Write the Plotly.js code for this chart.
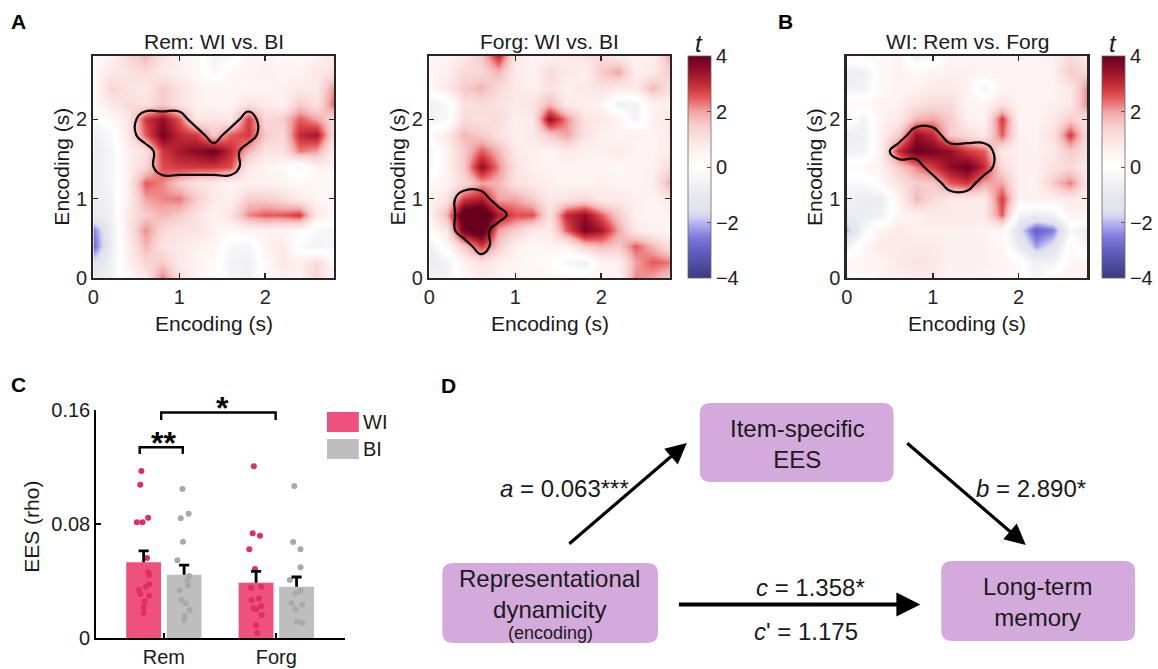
<!DOCTYPE html>
<html><head><meta charset="utf-8">
<script src="https://cdn.plot.ly/plotly-3.0.1.min.js"></script>
<style>html,body{margin:0;padding:0;background:#fff}#chart{width:1158px;height:669px}</style>
</head><body><div id="chart"></div>
<script>
// ---------------- DATA ----------------
const gridSec = [0,0.2,0.4,0.6,0.8,1,1.2,1.4,1.6,1.8,2,2.2,2.4,2.6,2.8];
const secTicks = [0,1,2];
const tTicks = [-4,-2,0,2,4];

// t-maps, rows = encoding time (y) 0..2.8, columns = encoding time (x) 0..2.8
const tRemWIvsBI = [
 [-0.8,-0.6,0.3,0.8,2.3,1.0,0.5,0.3,-0.4,-0.6,0.2,0.6,0.5,1.2,0.5],
 [-1.5,-0.6,0.5,1.3,1.5,0.8,0.5,0.2,-0.5,-0.6,0.3,0.8,0.6,1.2,0.3],
 [-2.8,-0.8,0.6,1.8,1.0,0.8,0.6,0.5,-0.3,-0.4,0.5,0.8,-0.2,-0.5,-0.3],
 [-2.5,-0.8,0.8,2.2,1.2,1.0,1.0,0.6,0.3,0.5,0.6,0.5,0.3,-0.3,-0.4],
 [-0.9,-0.6,0.8,1.5,1.8,1.5,1.0,0.5,1.0,2.2,2.5,2.5,2.8,0.8,0.3],
 [-0.8,-0.5,0.6,2.0,2.2,2.3,1.5,0.8,0.6,1.5,1.5,1.2,0.8,0.5,0.3],
 [-0.8,-0.4,0.6,2.5,2.2,1.5,1.0,0.8,0.5,0.6,0.6,0.5,0.3,0.4,0.3],
 [-0.8,-0.4,0.6,1.3,2.6,2.8,2.8,2.8,2.6,0.8,0.5,0.3,-0.4,0.5,0.5],
 [-0.8,-0.4,0.6,1.0,2.8,3.3,3.6,3.9,3.0,1.8,1.0,1.0,2.3,2.0,0.6],
 [-0.6,-0.3,0.8,2.5,3.8,3.0,2.8,1.5,2.5,2.8,1.5,1.2,3.0,3.3,1.0],
 [-0.3,0.3,0.8,2.8,3.5,2.5,0.8,1.0,0.8,2.8,1.2,1.5,2.5,2.0,1.2],
 [0.3,0.8,1.2,1.0,1.5,1.0,0.6,0.5,0.5,1.0,0.8,0.5,1.5,1.0,2.5],
 [0.3,1.3,1.0,0.8,1.5,1.0,0.6,0.5,0.5,0.4,0.5,0.6,0.8,0.8,2.2],
 [0.3,0.8,1.0,1.2,0.8,0.6,0.3,-0.3,0.3,0.5,0.6,0.5,0.5,0.8,1.0],
 [0.2,0.5,1.2,1.8,1.0,0.6,0.3,-0.5,-0.3,0.5,0.5,0.3,0.3,0.6,0.8]
];
const tForgWIvsBI = [
 [-0.6,-0.5,0.3,0.8,0.5,0.3,0.5,0.3,0.2,0.3,0.5,0.5,2.2,2.0,1.5],
 [-0.8,-0.5,0.5,1.0,0.6,0.5,0.3,0.2,-0.3,-0.6,0.5,0.6,2.0,2.5,2.3],
 [-0.6,0.3,1.5,2.8,1.5,0.6,0.3,0.5,0.5,1.5,1.8,1.5,2.5,1.8,1.0],
 [0.3,0.8,4.0,4.5,2.0,1.5,0.8,0.8,2.5,3.8,3.3,2.0,0.8,0.5,0.5],
 [0.5,1.8,4.5,4.8,3.2,2.6,2.6,1.0,3.0,3.5,2.5,1.5,0.6,0.5,0.5],
 [0.5,1.0,2.8,3.2,2.0,2.0,1.5,0.8,1.0,1.2,0.8,0.8,0.6,0.5,0.8],
 [0.3,0.5,1.2,2.0,1.8,1.0,0.8,0.6,0.5,0.5,0.6,0.5,0.5,0.6,2.0],
 [-0.3,0.5,1.5,3.5,2.2,1.0,0.6,0.5,0.5,0.5,0.5,0.3,0.5,0.6,1.2],
 [-0.3,0.5,1.5,2.5,1.8,0.8,0.6,0.5,0.8,0.6,0.6,0.8,0.5,0.5,0.8],
 [0.2,0.8,1.8,1.5,1.0,0.6,0.8,1.5,2.0,1.0,0.6,0.5,0.6,0.5,0.8],
 [-0.5,-0.3,1.2,1.0,1.2,0.6,0.8,3.5,2.2,1.0,0.8,0.5,-0.5,0.6,0.8],
 [-0.6,-0.3,1.0,1.2,1.0,0.8,1.0,1.8,0.8,0.6,0.5,-0.6,-0.5,0.5,0.6],
 [0.3,0.8,1.5,1.8,1.2,0.8,0.6,1.0,0.6,0.8,1.0,0.8,0.8,1.8,1.0],
 [0.5,0.6,1.2,1.3,1.8,0.8,0.5,1.2,0.8,0.6,1.5,2.0,0.6,0.8,1.5],
 [0.5,0.5,0.8,1.5,3.0,0.8,0.5,0.6,0.8,1.0,1.2,0.8,0.6,0.6,2.0]
];
const tWIRemVsForg = [
 [0.3,0.3,0.5,0.6,0.8,0.8,0.5,0.6,0.5,0.5,0.3,-0.4,0.3,0.6,0.5],
 [0.3,0.5,0.5,0.8,1.0,0.8,0.6,0.6,0.6,0.5,0.2,-0.6,-0.5,0.3,0.5],
 [-0.5,0.3,0.8,0.8,0.8,0.8,0.6,0.6,0.6,0.3,-0.8,-2.2,-1.5,0.3,-0.5],
 [-2.0,-0.3,0.5,0.8,0.6,0.6,0.6,0.6,0.5,0.3,-1.5,-3.0,-2.5,-0.3,-0.8],
 [-0.8,-0.8,-0.6,0.5,0.6,0.8,0.8,0.8,0.8,2.5,-0.5,-0.8,-0.6,0.5,0.5],
 [-0.6,-0.8,-0.8,0.5,1.8,1.2,0.8,0.8,0.8,2.8,0.6,0.6,0.6,0.8,0.6],
 [-0.3,-0.3,0.3,1.0,1.5,1.5,2.5,2.8,2.0,2.0,0.6,0.5,1.5,2.3,0.8],
 [0.3,0.3,0.6,1.5,2.2,2.8,3.5,4.0,3.0,1.2,0.6,0.6,1.0,1.2,0.8],
 [-0.6,-0.5,0.6,3.0,4.0,3.8,3.5,2.8,2.5,0.8,0.6,0.6,0.8,1.5,1.0],
 [-0.8,-0.6,0.6,1.5,3.5,3.0,1.5,1.2,0.8,2.5,0.6,0.5,1.0,2.8,1.0],
 [0.3,-0.5,0.5,0.8,1.8,2.0,1.5,0.6,0.5,2.8,0.5,0.5,0.8,1.5,1.0],
 [0.3,0.3,0.5,0.6,1.0,1.2,1.2,0.5,0.5,1.0,0.5,0.5,0.6,0.8,2.3],
 [-0.6,-0.5,0.3,0.5,0.5,0.8,0.8,0.6,-0.5,0.5,0.5,0.5,0.5,0.8,2.3],
 [-0.8,-0.6,0.3,0.5,0.3,0.5,0.6,0.6,0.5,0.5,0.5,0.5,0.6,1.5,1.2],
 [0.3,0.3,0.3,0.5,-0.6,-0.3,0.5,0.5,0.5,0.5,0.5,0.5,0.5,1.2,0.8]
];

// significant clusters (1 = inside cluster)
const clusterRem = [
 [0,0,0,0,0,0,0,0,0,0,0,0,0,0,0],[0,0,0,0,0,0,0,0,0,0,0,0,0,0,0],
 [0,0,0,0,0,0,0,0,0,0,0,0,0,0,0],[0,0,0,0,0,0,0,0,0,0,0,0,0,0,0],
 [0,0,0,0,0,0,0,0,0,0,0,0,0,0,0],[0,0,0,0,0,0,0,0,0,0,0,0,0,0,0],
 [0,0,0,0,0,0,0,0,0,0,0,0,0,0,0],
 [0,0,0,0,1,1,1,1,1,0,0,0,0,0,0],
 [0,0,0,0,1,1,1,1,1,0,0,0,0,0,0],
 [0,0,0,1,1,1,1,0,1,1,0,0,0,0,0],
 [0,0,0,1,1,1,0,0,0,1,0,0,0,0,0],
 [0,0,0,0,0,0,0,0,0,0,0,0,0,0,0],[0,0,0,0,0,0,0,0,0,0,0,0,0,0,0],
 [0,0,0,0,0,0,0,0,0,0,0,0,0,0,0],[0,0,0,0,0,0,0,0,0,0,0,0,0,0,0]
];
const clusterForg = [
 [0,0,0,0,0,0,0,0,0,0,0,0,0,0,0],[0,0,0,0,0,0,0,0,0,0,0,0,0,0,0],
 [0,0,0,1,0,0,0,0,0,0,0,0,0,0,0],
 [0,0,1,1,0,0,0,0,0,0,0,0,0,0,0],
 [0,0,1,1,1,0,0,0,0,0,0,0,0,0,0],
 [0,0,1,1,0,0,0,0,0,0,0,0,0,0,0],
 [0,0,0,0,0,0,0,0,0,0,0,0,0,0,0],[0,0,0,0,0,0,0,0,0,0,0,0,0,0,0],
 [0,0,0,0,0,0,0,0,0,0,0,0,0,0,0],[0,0,0,0,0,0,0,0,0,0,0,0,0,0,0],
 [0,0,0,0,0,0,0,0,0,0,0,0,0,0,0],[0,0,0,0,0,0,0,0,0,0,0,0,0,0,0],
 [0,0,0,0,0,0,0,0,0,0,0,0,0,0,0],[0,0,0,0,0,0,0,0,0,0,0,0,0,0,0],
 [0,0,0,0,0,0,0,0,0,0,0,0,0,0,0]
];
const clusterWI = [
 [0,0,0,0,0,0,0,0,0,0,0,0,0,0,0],[0,0,0,0,0,0,0,0,0,0,0,0,0,0,0],
 [0,0,0,0,0,0,0,0,0,0,0,0,0,0,0],[0,0,0,0,0,0,0,0,0,0,0,0,0,0,0],
 [0,0,0,0,0,0,0,0,0,0,0,0,0,0,0],[0,0,0,0,0,0,0,0,0,0,0,0,0,0,0],
 [0,0,0,0,0,0,1,1,0,0,0,0,0,0,0],
 [0,0,0,0,0,1,1,1,1,0,0,0,0,0,0],
 [0,0,0,1,1,1,1,1,1,0,0,0,0,0,0],
 [0,0,0,0,1,1,0,0,0,0,0,0,0,0,0],
 [0,0,0,0,0,0,0,0,0,0,0,0,0,0,0],[0,0,0,0,0,0,0,0,0,0,0,0,0,0,0],
 [0,0,0,0,0,0,0,0,0,0,0,0,0,0,0],[0,0,0,0,0,0,0,0,0,0,0,0,0,0,0],
 [0,0,0,0,0,0,0,0,0,0,0,0,0,0,0]
];

// Panel C: EES
const categories = ['Rem','Forg'];
const eesTicks = [0,0.08,0.16];
const eesTickText = ['0','0.08','0.16'];
const wiMean = [0.0531,0.0388];
const wiSem  = [0.0080,0.0080];
const biMean = [0.0444,0.0360];
const biSem  = [0.0068,0.0068];
const remWIPoints = [0.1172,0.1076,0.0813,0.0813,0.0844,0.0561,0.0461,0.0442,0.0377,0.0360,0.0337,0.0309,0.0297,0.0257,0.0215,0.0178];
const remWIJitter = [-0.02,-0.03,-0.06,-0.01,0.04,0.03,0.04,0.05,0.05,0.02,-0.04,-0.03,0.05,0.01,0,0];
const remBIPoints = [0.1046,0.0872,0.0840,0.0676,0.0545,0.0435,0.0402,0.0367,0.0335,0.0267,0.0243,0.0196,0.0157,0.0126];
const remBIJitter = [-0.015,0.04,-0.03,-0.01,-0.06,0.045,0.03,0.035,-0.04,-0.025,0.015,0.05,0.005,0];
const forgWIPoints = [0.1205,0.0735,0.0718,0.0622,0.0484,0.0360,0.0278,0.0267,0.0208,0.0201,0.0225,0.0161,0.0089,0.0037,0.0353];
const forgWIJitter = [-0.02,-0.03,0.035,-0.06,-0.01,0.045,0.025,-0.04,-0.025,0,0.045,0.05,0,0.01,-0.045];
const forgBIPoints = [0.1067,0.0674,0.0622,0.0496,0.0407,0.0332,0.0314,0.0243,0.0234,0.0201,0.0115,0.0107];
const forgBIJitter = [-0.02,-0.03,0.035,0.035,-0.06,0.035,-0.01,-0.045,0.05,-0.01,0.005,0.05];

// Panel D: mediation path coefficients
const pathA = '<i>a</i> = 0.063***';
const pathB = '<i>b</i> = 2.890*';
const pathC = '<i>c</i> = 1.358*';
const pathCp = '<i>c</i>\' = 1.175';

// ---------------- LAYOUT HELPERS ----------------
const W = 1158, H = 669;
const FONT = 'Liberation Sans, Arial, Helvetica, sans-serif';
const px = x => x / W;
const py = y => 1 - y / H;

const tScale = [
 [0.000,'rgb(58,60,128)'],
 [0.125,'rgb(100,95,195)'],
 [0.1875,'rgb(132,124,222)'],
 [0.25,'rgb(186,183,240)'],
 [0.28,'rgb(214,214,240)'],
 [0.3125,'rgb(226,227,236)'],
 [0.375,'rgb(231,232,238)'],
 [0.4375,'rgb(243,243,246)'],
 [0.5,'rgb(255,255,255)'],
 [0.5625,'rgb(254,243,243)'],
 [0.625,'rgb(251,226,226)'],
 [0.6875,'rgb(247,205,205)'],
 [0.75,'rgb(242,165,165)'],
 [0.8,'rgb(232,102,102)'],
 [0.8375,'rgb(218,66,70)'],
 [0.875,'rgb(192,42,54)'],
 [0.9375,'rgb(148,14,40)'],
 [1.0,'rgb(103,0,31)']
];

const hmPanels = [
  {z:tRemWIvsBI, mask:clusterRem, x0:94,  x1:336, title:'Rem: WI vs. BI', cb:null},
  {z:tForgWIvsBI, mask:clusterForg, x0:432, x1:674, title:'Forg: WI vs. BI', cb:692},
  {z:tWIRemVsForg, mask:clusterWI, x0:852, x1:1094, title:'WI: Rem vs. Forg', cb:1109}
];
const hmTop = 56, hmBot = 278;

const traces = [];
const layout = {
  width: W, height: H,
  margin: {l:0, r:0, t:0, b:0},
  paper_bgcolor: 'white', plot_bgcolor: 'white',
  showlegend: false,
  font: {family: FONT, color: '#1a1a1a', size: 20},
  annotations: [], shapes: []
};
const ann = (text, x, y, o={}) => Object.assign({
  text, xref:'paper', yref:'paper', x:px(x), y:py(y), showarrow:false,
  xanchor:'center', yanchor:'middle', font:{family:FONT, size:21, color:'#1a1a1a'}
}, o);

hmPanels.forEach((p, i) => {
  const n = i + 1;
  const xa = 'x' + n, ya = 'y' + n;
  traces.push({
    type:'heatmap', x:gridSec, y:gridSec, z:p.z, zmin:-4, zmax:4,
    colorscale:tScale, zsmooth:'best', xaxis:xa, yaxis:ya, hoverinfo:'skip',
    showscale: p.cb !== null,
    colorbar: p.cb === null ? undefined : {
      x:px(p.cb), xanchor:'left', xref:'paper', y:py((hmTop+hmBot)/2), yanchor:'middle', yref:'paper',
      len:(hmBot-hmTop)/H, lenmode:'fraction', thickness:23, thicknessmode:'pixels',
      xpad:0, ypad:0, tickvals:tTicks, ticks:'inside', ticklen:4, tickcolor:'#555',
      tickfont:{family:FONT, size:20, color:'#1a1a1a'}, outlinewidth:0.8, outlinecolor:'#666'
    }
  });
  traces.push({
    type:'contour', x:gridSec, y:gridSec, z:p.mask, xaxis:xa, yaxis:ya,
    autocontour:false, contours:{start:0.5, end:0.5, size:1, coloring:'none'},
    line:{color:'#000', width:2.2, smoothing:1.3}, showscale:false, hoverinfo:'skip'
  });
  const axCommon = {
    range:[0,2.8], tickvals:secTicks, ticks:'inside', ticklen:5, tickwidth:1.5, tickcolor:'#262626',
    showline:true, mirror:'ticks', linewidth:2.4, linecolor:'#262626',
    showgrid:false, zeroline:false, fixedrange:true,
    tickfont:{family:FONT, size:20, color:'#262626'}
  };
  layout['xaxis' + (n===1?'':n)] = Object.assign({}, axCommon, {domain:[px(p.x0), px(p.x1)], anchor:ya});
  layout['yaxis' + (n===1?'':n)] = Object.assign({}, axCommon, {domain:[py(hmBot), py(hmTop)], anchor:xa});
  const cx = (p.x0 + p.x1) / 2;
  layout.annotations.push(ann(p.title, cx, 42));
  layout.annotations.push(ann('Encoding (s)', cx, 323));
  layout.annotations.push(ann('Encoding (s)', p.x0 - 33, 167, {textangle:-90}));
  if (p.cb !== null) {
    layout.annotations.push(ann('<i>t</i>', p.cb + 11, 43, {font:{family:FONT, size:24, color:'#1a1a1a'}}));
  }
});

// ---------------- PANEL C ----------------
const catPos = categories.map((c, i) => i + 1);
const barOff = 0.18, capHalf = 0.045;
const wiColor = '#EF507E', biColor = '#BEBEBE';
traces.push({
  type:'bar', x:catPos, y:wiMean, xaxis:'x4', yaxis:'y4', marker:{color:wiColor, line:{width:0}},
  hoverinfo:'skip', name:'WI'
});
traces.push({
  type:'bar', x:catPos, y:biMean, xaxis:'x4', yaxis:'y4', marker:{color:biColor, line:{width:0}},
  hoverinfo:'skip', name:'BI'
});
const dotGroups = [
  {pts:remWIPoints, jit:remWIJitter, cat:1, off:-barOff, color:'#DE2E62'},
  {pts:remBIPoints, jit:remBIJitter, cat:1, off:barOff, color:'#A9A9A9'},
  {pts:forgWIPoints, jit:forgWIJitter, cat:2, off:-barOff, color:'#DE2E62'},
  {pts:forgBIPoints, jit:forgBIJitter, cat:2, off:barOff, color:'#A9A9A9'}
];
dotGroups.forEach(g => {
  traces.push({
    type:'scatter', mode:'markers', xaxis:'x4', yaxis:'y4', hoverinfo:'skip',
    x:g.jit.map(j => g.cat + g.off + j), y:g.pts,
    marker:{size:6, color:g.color, line:{width:0}}
  });
});
// one-sided (upper) SEM error bars drawn as T shapes from the mean/sem arrays
function semT(means, sems, off) {
  const x = [], y = [];
  means.forEach((m, i) => {
    const c = catPos[i] + off, top = m + sems[i];
    x.push(c, c, null, c - capHalf, c + capHalf, null);
    y.push(m, top, null, top, top, null);
  });
  return {type:'scatter', mode:'lines', x, y, xaxis:'x4', yaxis:'y4', hoverinfo:'skip',
          line:{color:'#000', width:2.8}, connectgaps:false};
}
traces.push(semT(wiMean, wiSem, -barOff));
traces.push(semT(biMean, biSem, barOff));

layout.barmode = 'group';
layout.bargap = 0.28;
layout.bargroupgap = 0.14;
layout.xaxis4 = {
  domain:[px(97), px(347)], anchor:'y4', range:[0.4, 2.61], tickvals:catPos, ticktext:categories,
  ticks:'inside', ticklen:5, tickwidth:2, tickcolor:'#000', showline:true, linewidth:2.2, linecolor:'#000',
  showgrid:false, zeroline:false, fixedrange:true, tickfont:{family:FONT, size:20, color:'#1a1a1a'}
};
layout.yaxis4 = {
  domain:[py(638), py(410)], anchor:'x4', range:[0, 0.16], tickvals:eesTicks, ticktext:eesTickText,
  ticks:'inside', ticklen:5, tickwidth:2, tickcolor:'#000', showline:true, linewidth:2.2, linecolor:'#000',
  showgrid:false, zeroline:false, fixedrange:true, tickfont:{family:FONT, size:20, color:'#1a1a1a'}
};
layout.annotations.push(ann('EES (rho)', 31, 527, {textangle:-90}));
// significance brackets
layout.shapes.push({type:'path', xref:'x4', yref:'y4', path:'M0.785,0.1291 L0.785,0.1339 L1.168,0.1339 L1.168,0.1291', line:{color:'#000', width:2.4}});
layout.shapes.push({type:'path', xref:'x4', yref:'y4', path:'M0.976,0.1530 L0.976,0.1582 L1.994,0.1582 L1.994,0.1530', line:{color:'#000', width:2.4}});
layout.annotations.push(ann('<b>**</b>', 164, 443, {font:{family:FONT, size:32, color:'#000'}}));
layout.annotations.push(ann('<b>*</b>', 224, 408, {font:{family:FONT, size:32, color:'#000'}}));
// legend
layout.shapes.push({type:'rect', xref:'paper', yref:'paper', x0:px(329), x1:px(361), y0:py(432), y1:py(412), fillcolor:wiColor, line:{width:0}});
layout.shapes.push({type:'rect', xref:'paper', yref:'paper', x0:px(329), x1:px(361), y0:py(459), y1:py(439), fillcolor:biColor, line:{width:0}});
layout.annotations.push(ann('WI', 363, 422, {xanchor:'left', font:{family:FONT, size:20, color:'#1a1a1a'}}));
layout.annotations.push(ann('BI', 363, 449, {xanchor:'left', font:{family:FONT, size:20, color:'#1a1a1a'}}));

// ---------------- PANEL D ----------------
function roundRect(x0, y0, x1, y1, r) {
  const X = v => px(v).toFixed(5), Y = v => py(v).toFixed(5);
  return `M${X(x0+r)},${Y(y0)} L${X(x1-r)},${Y(y0)} Q${X(x1)},${Y(y0)} ${X(x1)},${Y(y0+r)} ` +
         `L${X(x1)},${Y(y1-r)} Q${X(x1)},${Y(y1)} ${X(x1-r)},${Y(y1)} L${X(x0+r)},${Y(y1)} ` +
         `Q${X(x0)},${Y(y1)} ${X(x0)},${Y(y1-r)} L${X(x0)},${Y(y0+r)} Q${X(x0)},${Y(y0)} ${X(x0+r)},${Y(y0)} Z`;
}
const boxColor = '#D3AADB';
[[704,403,899,482],[445,563,662,643],[947,561,1142,641]].forEach(b => {
  layout.shapes.push({type:'path', xref:'paper', yref:'paper', path:roundRect(b[0],b[1],b[2],b[3],11), fillcolor:boxColor, line:{width:0}, layer:'below'});
});
const dFont = {family:FONT, size:24, color:'#1a1a1a'};
layout.annotations.push(ann('Item-specific<br>EES', 802, 444, {font:dFont}));
layout.annotations.push(ann('Representational<br>dynamicity', 553, 594, {font:dFont}));
layout.annotations.push(ann('(encoding)', 554, 633, {font:{family:FONT, size:18, color:'#1a1a1a'}}));
layout.annotations.push(ann('Long-term<br>memory', 1044, 602, {font:dFont}));
layout.annotations.push(ann(pathA, 568, 488, {font:dFont}));
layout.annotations.push(ann(pathB, 1037, 488, {font:dFont}));
layout.annotations.push(ann(pathC, 815, 587, {font:dFont}));
layout.annotations.push(ann(pathCp, 811, 631, {font:dFont}));
// arrows (tip at x,y; tail offset ax,ay in px)
const arrow = (tx, ty, sx, sy, w, s) => ({
  text:'', xref:'paper', yref:'paper', x:px(tx), y:py(ty), ax:sx-tx, ay:sy-ty,
  showarrow:true, arrowhead:2, arrowsize:s, arrowwidth:w, arrowcolor:'#000', standoff:0, startstandoff:0
});
layout.annotations.push(arrow(691, 443, 572, 545, 3.2, 1.3));
layout.annotations.push(arrow(1032, 545, 912, 442, 3.2, 1.3));
layout.annotations.push(arrow(926, 604.5, 683, 604.5, 4, 1.2));

// panel letters
const lblFont = {family:FONT, size:21, color:'#000'};
[['A',19,22],['B',790,22],['C',19,384],['D',451,385]].forEach(l => {
  layout.annotations.push(ann('<b>' + l[0] + '</b>', l[1], l[2], {font:lblFont}));
});

Plotly.newPlot('chart', traces, layout, {displayModeBar:false, staticPlot:true});
</script>
</body></html>
